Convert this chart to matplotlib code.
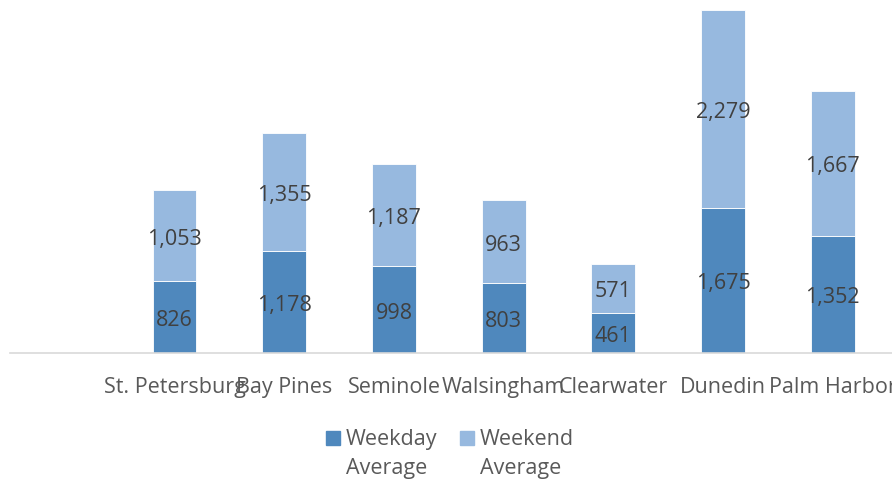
import matplotlib

matplotlib.use("Agg")
import matplotlib.pyplot as plt
from matplotlib.patches import Rectangle

plt.rcParams["font.family"] = ["Open Sans", "DejaVu Sans"]

locations = ["", "St. Petersburg", "Bay Pines", "Seminole", "Walsingham",
             "Clearwater", "Dunedin", "Palm Harbor"]
weekday = [0, 826, 1178, 998, 803, 461, 1675, 1352]
weekend = [0, 1053, 1355, 1187, 963, 571, 2279, 1667]
series_names = ["Weekday\nAverage", "Weekend\nAverage"]

c_weekday = "#4f88bd"
c_weekend = "#97b9df"
fs = 15.5

W, H = 892, 479
fig = plt.figure(figsize=(W / 100, H / 100), dpi=100)
ax = fig.add_axes([10 / W, (H - 353) / H, 882 / W, 346 / H])

x = list(range(len(locations)))
b1 = ax.bar(x, weekday, width=0.4, color=c_weekday, edgecolor="white", linewidth=0.6)
b2 = ax.bar(x, weekend, width=0.4, bottom=weekday, color=c_weekend,
            edgecolor="white", linewidth=0.6)
for bars, vals in ((b1, weekday), (b2, weekend)):
    labels = [f"{v:,}" if v else "" for v in vals]
    anns = ax.bar_label(bars, labels=labels, label_type="center", fontsize=fs,
                        color="#404040")
    for a in anns:
        a.xyann = (0, -2.5)

ax.set_xlim(-0.5, 882 / 109.7 - 0.5)
ax.set_ylim(0, 3990)
ax.set_xticks(x)
ax.set_xticklabels(locations, fontsize=fs, color="#595959")
ax.tick_params(axis="x", length=0, pad=17)
ax.set_yticks([])
for side in ("left", "right", "top"):
    ax.spines[side].set_visible(False)
ax.spines["bottom"].set_color("#d9d9d9")
ax.spines["bottom"].set_linewidth(1.2)

# legend, drawn by hand so the swatch sits on the first text line
for name, col, sx in zip(series_names, (c_weekday, c_weekend), (326, 460)):
    fig.patches.append(Rectangle((sx / W, (H - 445) / H), 14 / W, 14 / H,
                                 transform=fig.transFigure, color=col))
    fig.text((sx + 20) / W, (H - 454) / H, name, fontsize=fs, color="#595959",
             ha="left", va="center", linespacing=1.45)

fig.savefig("out.png", dpi=100)
